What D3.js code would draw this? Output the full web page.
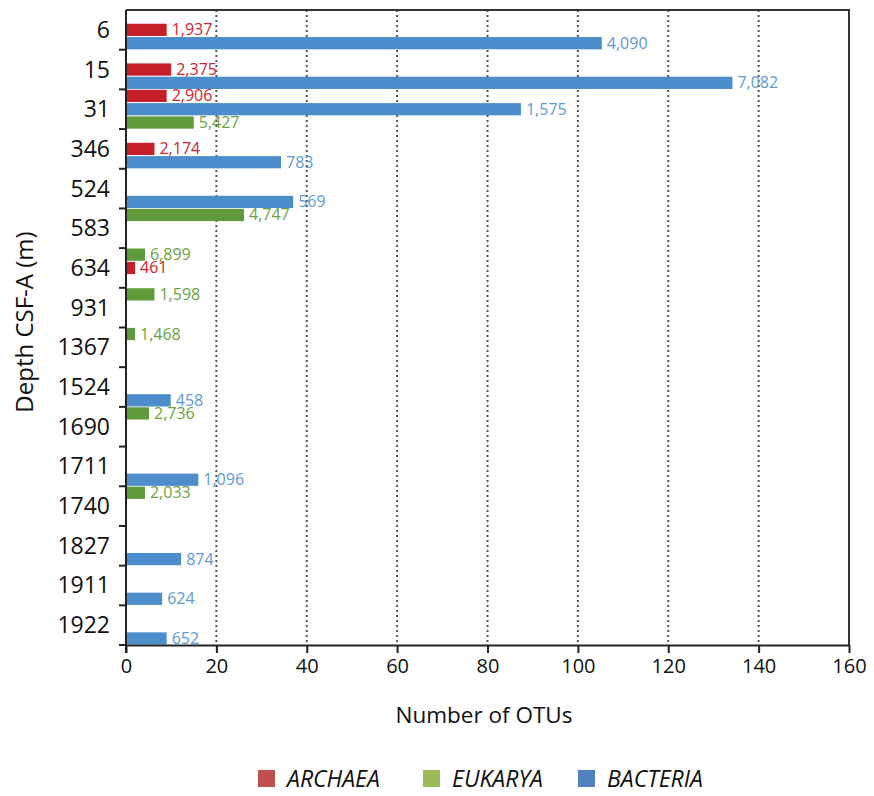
<!DOCTYPE html>
<html>
<head>
<meta charset="utf-8">
<script src="https://cdn.jsdelivr.net/npm/d3@7"></script>
<style>
  html, body { margin: 0; padding: 0; background: #fff; }
  svg { display: block; font-family: "Open Sans", "DejaVu Sans", sans-serif; }
</style>
</head>
<body>
<svg id="chart" width="874" height="796"></svg>
<script>
// ---- data ----
const depths = ["6","15","31","346","524","583","634","931","1367","1524","1690","1711","1740","1827","1911","1922"];
// OTU counts (bar lengths); null = no bar
const archaeaOTU  = [9.0, 10.0, 9.0, 6.3, null, null, 2.0, null, null, null, null, null, null, null, null, null];
const eukaryaOTU  = [null, null, 15.0, null, null, 26.1, 4.2, 6.3, 2.0, null, 5.1, null, 4.2, null, null, null];
const bacteriaOTU = [105.3, 134.2, 87.4, 34.3, 37.0, null, null, null, null, 9.9, null, 16.0, null, 12.2, 8.0, 9.0];
// numbers printed next to the bars
const archaeaLabel  = ["1,937","2,375","2,906","2,174",null,null,"461",null,null,null,null,null,null,null,null,null];
const eukaryaLabel  = [null,null,"5,427",null,null,"4,747","6,899","1,598","1,468",null,"2,736",null,"2,033",null,null,null];
const bacteriaLabel = ["4,090","7,082","1,575","783","569",null,null,null,null,"458",null,"1,096",null,"874","624","652"];
const xTicks = [0, 20, 40, 60, 80, 100, 120, 140, 160];
const seriesNames = ["ARCHAEA", "EUKARYA", "BACTERIA"];

// ---- styles ----
const barColor   = { ARCHAEA: "#c5202a", EUKARYA: "#5f9a3b", BACTERIA: "#4e8dcb" };
const labelColor = { ARCHAEA: "#d1232f", EUKARYA: "#67a33c", BACTERIA: "#5b9ad6" };
const legendColor = { ARCHAEA: "#c0504d", EUKARYA: "#9bbb59", BACTERIA: "#4f81bd" };

const svg = d3.select("#chart");
const m = { left: 126, right: 849, top: 10, bottom: 645 };

const x = d3.scaleLinear().domain([0, 160]).range([m.left, m.right]);
const y = d3.scaleBand().domain(depths).range([m.top, m.bottom]).padding(0);

// slot order inside each depth band
const defaultOrder = ["EUKARYA", "ARCHAEA", "BACTERIA"];
const altOrder = ["ARCHAEA", "BACTERIA", "EUKARYA"];
function sub(depth) {
  return d3.scaleBand()
    .domain(depth === "31" ? altOrder : defaultOrder)
    .range([0, y.bandwidth()])
    .paddingInner(0.08).paddingOuter(0.03);
}

const bars = [];
depths.forEach((d, i) => {
  [["ARCHAEA", archaeaOTU, archaeaLabel], ["EUKARYA", eukaryaOTU, eukaryaLabel], ["BACTERIA", bacteriaOTU, bacteriaLabel]]
    .forEach(([s, vals, labs]) => {
      if (vals[i] != null) bars.push({ depth: d, series: s, value: vals[i], label: labs[i] });
    });
});

// gridlines
svg.append("g").selectAll("line").data(xTicks.filter(t => t > 0 && t < 160)).join("line")
  .attr("x1", d => x(d)).attr("x2", d => x(d))
  .attr("y1", m.top).attr("y2", m.bottom)
  .attr("stroke", "#555").attr("stroke-width", 2).attr("stroke-dasharray", "2 3");

// frame (top, right)
svg.append("path")
  .attr("d", `M${m.left},${m.top}H${m.right}V${m.bottom}`)
  .attr("fill", "none").attr("stroke", "#333").attr("stroke-width", 2);

// bars
svg.append("g").selectAll("rect").data(bars).join("rect")
  .attr("x", x(0))
  .attr("y", d => y(d.depth) + sub(d.depth)(d.series))
  .attr("width", d => x(d.value) - x(0))
  .attr("height", d => sub(d.depth).bandwidth())
  .attr("fill", d => barColor[d.series]);

// value labels
svg.append("g").selectAll("text").data(bars.filter(b => b.label)).join("text")
  .attr("x", d => x(d.value) + 5)
  .attr("y", d => y(d.depth) + sub(d.depth)(d.series) + sub(d.depth).bandwidth() / 2 + 5.5)
  .attr("fill", d => labelColor[d.series])
  .attr("font-size", 16)
  .text(d => d.label);

// x axis
const xAxis = svg.append("g").attr("transform", `translate(0,${m.bottom})`)
  .call(d3.axisBottom(x).tickValues(xTicks).tickSize(8).tickPadding(6).tickSizeOuter(0));
xAxis.select(".domain").attr("stroke", "#222").attr("stroke-width", 2);
xAxis.selectAll(".tick line").attr("stroke", "#222").attr("stroke-width", 2);
xAxis.selectAll(".tick text").attr("font-size", 20).attr("fill", "#111")
  .attr("font-family", "'Open Sans', sans-serif");

// y axis: line + ticks at band boundaries
const yBounds = depths.map(d => y(d)).concat([m.bottom]);
svg.append("line").attr("x1", m.left).attr("x2", m.left).attr("y1", m.top).attr("y2", m.bottom + 8)
  .attr("stroke", "#222").attr("stroke-width", 2);
svg.append("g").selectAll("line").data(yBounds.slice(1)).join("line")
  .attr("x1", m.left - 7).attr("x2", m.left).attr("y1", d => d).attr("y2", d => d)
  .attr("stroke", "#222").attr("stroke-width", 2);
svg.append("g").selectAll("text").data(depths).join("text")
  .attr("x", 110)
  .attr("y", d => y(d) + y.bandwidth() / 2 + 8)
  .attr("text-anchor", "end")
  .attr("font-size", 23)
  .attr("fill", "#111")
  .text(d => d);

// axis titles
svg.append("text").attr("x", 484).attr("y", 723).attr("text-anchor", "middle")
  .attr("font-size", 22.5).attr("fill", "#111").text("Number of OTUs");
svg.append("text").attr("transform", "translate(33,322) rotate(-90)").attr("text-anchor", "middle")
  .attr("font-size", 24).attr("fill", "#111").text("Depth CSF-A (m)");

// legend
const legendX = [258, 423, 578];
const lg = svg.append("g").selectAll("g").data(seriesNames).join("g")
  .attr("transform", (d, i) => `translate(${legendX[i]},770)`);
lg.append("rect").attr("width", 17).attr("height", 17).attr("fill", d => legendColor[d]);
lg.append("text").attr("x", 29).attr("y", 17).attr("font-size", 23).attr("font-style", "italic")
  .attr("fill", "#111").text(d => d);
</script>
</body>
</html>
